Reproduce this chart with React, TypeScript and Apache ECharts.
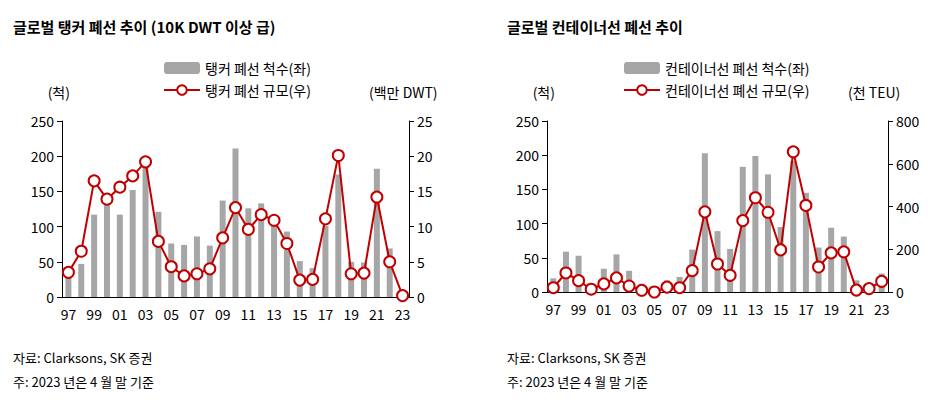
import React, { useEffect, useRef } from "react";
import * as echarts from "echarts";

const years = ["97","98","99","00","01","02","03","04","05","06","07","08","09","10","11","12","13","14","15","16","17","18","19","20","21","22","23"];
const tankerCount = [31,47,117,132,117,152,186,121,76,74,86,73,137,211,126,133,104,93,51,41,101,174,50,49,182,69,0];
const tankerDwt = [3.5,6.5,16.5,13.9,15.6,17.2,19.2,7.9,4.3,3.0,3.3,4.0,8.4,12.7,9.6,11.7,10.9,7.6,2.4,2.5,11.1,20.1,3.3,3.4,14.2,5.0,0.2];
const boxCount = [20,59,53,2,34,55,31,12,3,17,22,62,203,89,63,183,199,172,95,192,145,65,94,81,17,3,27];
const boxTeu = [20,89,53,13,38,66,28,8,0,23,20,100,375,131,78,334,441,373,197,656,405,117,183,188,9,16,50];

const FONT = "'Noto Sans CJK KR', 'Noto Sans', sans-serif";
const txt = { color: "#000", fontFamily: FONT, fontSize: 14 };

function xAxis(grid: number) {
  return {
    type: "category", gridIndex: grid, data: years,
    axisLine: { lineStyle: { color: "#000" } },
    axisTick: { interval: 1, length: 5, lineStyle: { color: "#000" } },
    axisLabel: { ...txt, interval: 1, margin: 10 },
  };
}
function yAxis(grid: number, pos: string, max: number, interval: number, name: string, nameGap: number) {
  return {
    type: "value", gridIndex: grid, position: pos, min: 0, max, interval,
    name, nameGap, nameTextStyle: { ...txt, align: pos === "left" ? "right" : "left", padding: pos === "left" ? [0, -8, 8, 0] : [0, 0, 8, -40] },
    axisLine: { show: true, lineStyle: { color: "#000" } },
    axisTick: { show: true, length: 5, lineStyle: { color: "#000" } },
    axisLabel: { ...txt, margin: 8 },
    splitLine: { show: false },
  };
}
const bar = (name: string, data: number[], x: number, y: number) => ({
  type: "bar", name, data, xAxisIndex: x, yAxisIndex: y, barWidth: 6,
  itemStyle: { color: "#a6a6a6" },
});
const line = (name: string, data: number[], x: number, y: number) => ({
  type: "line", name, data, xAxisIndex: x, yAxisIndex: y, symbol: "circle", symbolSize: 11,
  showAllSymbol: true,
  lineStyle: { color: "#c00000", width: 2 },
  itemStyle: { color: "#fff", borderColor: "#c00000", borderWidth: 2 },
});

export default function App() {
  const ref = useRef<HTMLDivElement>(null);
  useEffect(() => {
    if (!ref.current) return;
    const chart = echarts.init(ref.current, undefined, { renderer: "svg" });
    chart.setOption({
      animation: false,
      textStyle: { fontFamily: FONT },
      title: [
        { text: "글로벌 탱커 폐선 추이 (10K DWT 이상 급)", left: 8, top: 14, textStyle: { ...txt, fontSize: 15, fontWeight: "bold" } },
        { text: "글로벌 컨테이너선 폐선 추이", left: 502, top: 14, textStyle: { ...txt, fontSize: 15, fontWeight: "bold" } },
        { text: "자료: Clarksons, SK 증권", left: 8, top: 346, textStyle: { ...txt, fontSize: 13, fontWeight: "normal" } },
        { text: "주: 2023 년은 4 월 말 기준", left: 8, top: 370, textStyle: { ...txt, fontSize: 13, fontWeight: "normal" } },
        { text: "자료: Clarksons, SK 증권", left: 502, top: 346, textStyle: { ...txt, fontSize: 13, fontWeight: "normal" } },
        { text: "주: 2023 년은 4 월 말 기준", left: 502, top: 370, textStyle: { ...txt, fontSize: 13, fontWeight: "normal" } },
      ],
      legend: [
        { left: 158, top: 56, orient: "vertical", itemGap: 8, itemWidth: 36, itemHeight: 12, textStyle: txt, data: ["탱커 폐선 척수(좌)", "탱커 폐선 규모(우)"] },
        { left: 618, top: 56, orient: "vertical", itemGap: 8, itemWidth: 36, itemHeight: 12, textStyle: txt, data: ["컨테이너선 폐선 척수(좌)", "컨테이너선 폐선 규모(우)"] },
      ],
      grid: [
        { left: 62, right: 947 - 409, top: 121, height: 176 },
        { left: 547, right: 947 - 888, top: 121, height: 171 },
      ],
      xAxis: [xAxis(0), xAxis(1)],
      yAxis: [
        yAxis(0, "left", 250, 50, "(척)", 14),
        yAxis(0, "right", 25, 5, "(백만 DWT)", 14),
        yAxis(1, "left", 250, 50, "(척)", 14),
        yAxis(1, "right", 800, 200, "(천 TEU)", 14),
      ],
      series: [
        bar("탱커 폐선 척수(좌)", tankerCount, 0, 0),
        line("탱커 폐선 규모(우)", tankerDwt, 0, 1),
        bar("컨테이너선 폐선 척수(좌)", boxCount, 1, 2),
        line("컨테이너선 폐선 규모(우)", boxTeu, 1, 3),
      ],
    });
    return () => chart.dispose();
  }, []);
  return <div ref={ref} style={{ position: "fixed", left: 0, top: 0, width: 947, height: 415, background: "#fff" }} />;
}
